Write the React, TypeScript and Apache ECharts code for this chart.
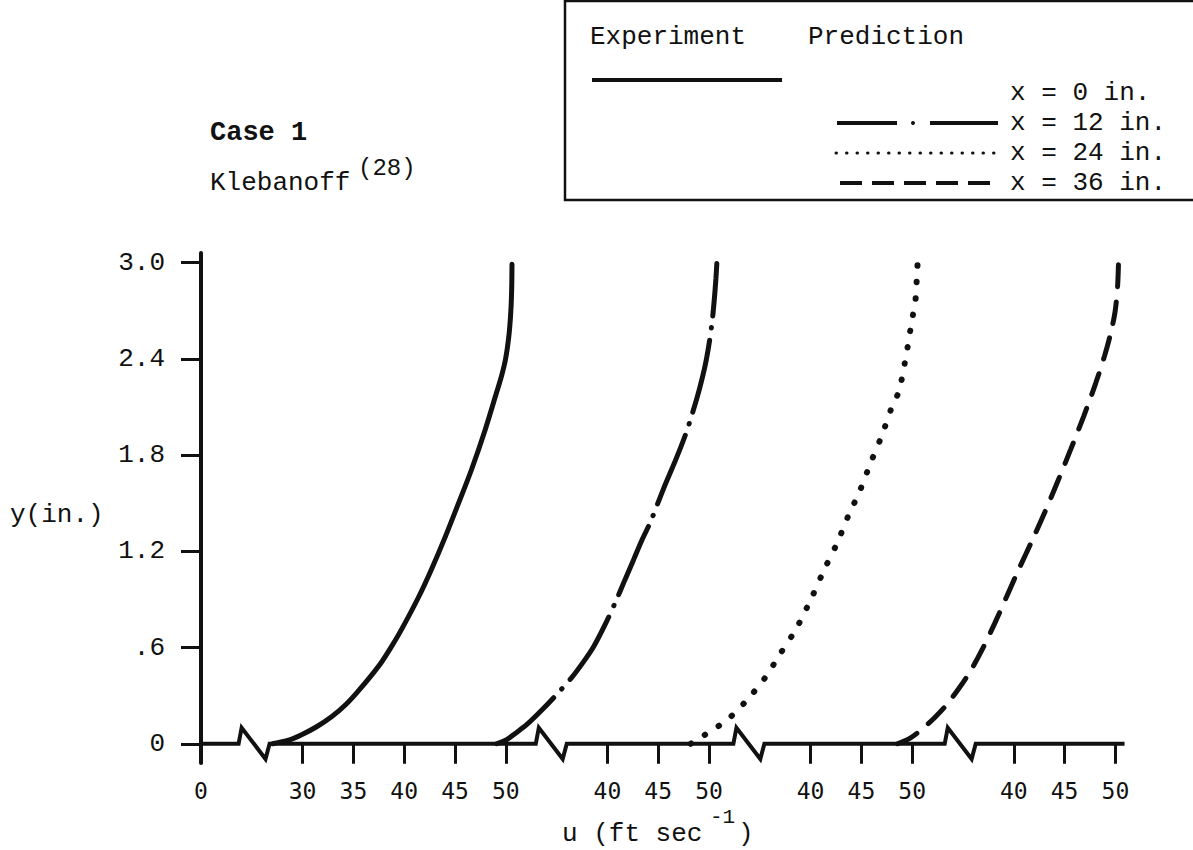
import React, { useEffect, useRef } from "react";
import * as echarts from "echarts";

// ---- axis layout: each panel's u value is drawn at plot position u + offset ----
const PANEL_OFFSETS = [0, 20, 40, 60];
const ORIGIN_POS = 20; // plot position of the "0" label (at the y axis)
const ORIGIN_LABEL = "0";
const FIRST_PANEL_TICKS = [30, 35, 40, 45, 50];
const OTHER_PANEL_TICKS = [40, 45, 50];
const X_MAX = 111;
const AXIS_END = 110.9;
const BREAK_STARTS = [23.7, 52.95, 72.4, 93.2];

const Y_MIN = -0.12;
const Y_MAX = 3.06;
const Y_TICKS = [0, 0.6, 1.2, 1.8, 2.4, 3.0];
const Y_TICK_LABELS = ["0", ".6", "1.2", "1.8", "2.4", "3.0"];

// ---- curves (u in ft/sec on their own panel scale, y in inches) ----
// Experiment, x = 0 in. (panel 1)
const U_X0 = [27.05, 28.62, 29.9, 31.38, 32.85, 34.23, 35.51, 36.69, 37.78, 38.76, 39.74, 41.42, 42.7, 44.04, 45.35, 46.63, 47.98, 49.09, 49.59, 49.98, 50.28, 50.47, 50.57, 50.61];
const Y_X0 = [0, 0.022, 0.056, 0.106, 0.168, 0.243, 0.331, 0.42, 0.51, 0.607, 0.713, 0.915, 1.09, 1.29, 1.5, 1.71, 1.96, 2.19, 2.296, 2.4, 2.53, 2.67, 2.81, 2.99];
// Prediction, x = 12 in. (panel 2)
const U_X12 = [29.09, 30.08, 30.96, 32.05, 33.23, 34.8, 36.48, 37.66, 38.64, 39.72, 40.81, 41.69, 42.58, 43.37, 44.25, 45.53, 46.81, 47.7, 48.39, 49.07, 49.62, 50.01, 50.31, 50.53, 50.68, 50.77];
const Y_X12 = [0, 0.025, 0.066, 0.119, 0.19, 0.293, 0.412, 0.512, 0.605, 0.736, 0.886, 1.017, 1.148, 1.266, 1.385, 1.591, 1.784, 1.93, 2.065, 2.215, 2.358, 2.495, 2.633, 2.776, 2.901, 2.994];
// Prediction, x = 24 in. (panel 3)
const U_X24 = [28.2, 29.6, 31.8, 33.7, 35.5, 37.0, 38.6, 40.1, 41.3, 42.6, 43.7, 44.8, 45.9, 47.0, 48.0, 48.7, 49.4, 50.0, 50.3, 50.5, 50.6];
const Y_X24 = [0, 0.056, 0.15, 0.27, 0.41, 0.56, 0.72, 0.91, 1.08, 1.25, 1.42, 1.57, 1.75, 1.92, 2.1, 2.2, 2.42, 2.65, 2.75, 2.96, 3.06];
// Prediction, x = 36 in. (panel 4)
const U_X36 = [28.56, 29.84, 31.02, 32.2, 33.39, 34.57, 35.75, 36.93, 38.11, 39.29, 40.47, 41.75, 43.03, 44.31, 45.59, 46.87, 48.05, 48.94, 49.53, 49.97, 50.22, 50.33];
const Y_X36 = [0, 0.037, 0.094, 0.162, 0.243, 0.343, 0.455, 0.593, 0.749, 0.917, 1.085, 1.26, 1.441, 1.634, 1.834, 2.04, 2.246, 2.42, 2.558, 2.695, 2.857, 3.057];

const LEGEND_LABELS = ["x = 0 in.", "x = 12 in.", "x = 24 in.", "x = 36 in."];

const MONO = "Liberation Mono";

function buildTicks() {
  const pos: number[] = [ORIGIN_POS];
  const labels: string[] = [ORIGIN_LABEL];
  PANEL_OFFSETS.forEach((off, i) => {
    const ticks = i === 0 ? FIRST_PANEL_TICKS : OTHER_PANEL_TICKS;
    ticks.forEach((t) => {
      pos.push(t + off);
      labels.push(String(t));
    });
  });
  return { pos, labels };
}

function baseline(): number[][] {
  const pts: number[][] = [[ORIGIN_POS, 0]];
  BREAK_STARTS.forEach((s) => {
    pts.push([s, 0], [s + 0.3, 0.1], [s + 2.65, -0.095], [s + 3.05, 0]);
  });
  pts.push([AXIS_END, 0]);
  return pts;
}

function curve(u: number[], y: number[], panel: number) {
  return u.map((v, i) => [v + PANEL_OFFSETS[panel], y[i]]);
}

export default function App() {
  const ref = useRef<HTMLDivElement>(null);
  useEffect(() => {
    if (!ref.current) return;
    const chart = echarts.init(ref.current, undefined, { renderer: "svg" });
    const { pos, labels } = buildTicks();
    const labelMap: Record<string, string> = {};
    pos.forEach((p, i) => (labelMap[p.toFixed(2)] = labels[i]));
    const yLabelMap: Record<string, string> = {};
    Y_TICKS.forEach((t, i) => (yLabelMap[t.toFixed(2)] = Y_TICK_LABELS[i]));

    const black = "#111";
    const legendY = [93, 123, 153, 183];
    const curveBase = { type: "line", symbol: "none", smooth: 0.3 };

    chart.setOption({
      animation: false,
      backgroundColor: "#fff",
      textStyle: { fontFamily: MONO, color: black },
      grid: { left: 201, top: 253, width: (X_MAX - ORIGIN_POS) * 10.16, height: 510 },
      xAxis: {
        type: "value",
        min: ORIGIN_POS,
        max: X_MAX,
        splitLine: { show: false },
        axisLine: { show: false, onZero: true },
        axisTick: {
          show: true,
          customValues: pos,
          length: 20,
          lineStyle: { color: black, width: 3 },
        },
        axisLabel: {
          customValues: pos,
          margin: 16,
          fontFamily: "DejaVu Sans Mono",
          fontSize: 23,
          color: black,
          formatter: (v: number) => labelMap[v.toFixed(2)] ?? "",
        },
      },
      yAxis: {
        type: "value",
        min: Y_MIN,
        max: Y_MAX,
        splitLine: { show: false },
        axisLine: { show: true, onZero: false, lineStyle: { color: black, width: 4 } },
        axisTick: {
          show: true,
          customValues: Y_TICKS,
          length: 20,
          lineStyle: { color: black, width: 3 },
        },
        axisLabel: {
          customValues: Y_TICKS,
          margin: 36,
          fontFamily: MONO,
          fontSize: 26,
          color: black,
          formatter: (v: number) => yLabelMap[v.toFixed(2)] ?? "",
        },
      },
      series: [
        {
          name: "axis",
          type: "line",
          data: baseline(),
          symbol: "none",
          lineStyle: { color: black, width: 4, join: "miter" },
          silent: true,
          z: 1,
        },
        {
          ...curveBase,
          name: LEGEND_LABELS[0],
          data: curve(U_X0, Y_X0, 0),
          lineStyle: { color: black, width: 5, cap: "round" },
        },
        {
          ...curveBase,
          name: LEGEND_LABELS[1],
          data: curve(U_X12, Y_X12, 1),
          lineStyle: { color: black, width: 5, cap: "round", type: [74, 12, 0.5, 12] },
        },
        {
          ...curveBase,
          name: LEGEND_LABELS[2],
          data: curve(U_X24, Y_X24, 2),
          lineStyle: { color: black, width: 6, cap: "round", type: [0.5, 16] },
        },
        {
          ...curveBase,
          name: LEGEND_LABELS[3],
          data: curve(U_X36, Y_X36, 3),
          lineStyle: { color: black, width: 5, cap: "round", type: [22, 15] },
        },
      ],
      graphic: [
        {
          type: "rect",
          shape: { x: 565, y: 1, width: 640, height: 199 },
          style: { fill: "#fff", stroke: black, lineWidth: 2.5 },
          z: 10,
        },
        { type: "text", x: 590, y: 37, z: 11, style: { text: "Experiment", font: `26px '${MONO}'`, fill: black, verticalAlign: "middle" } },
        { type: "text", x: 808, y: 37, z: 11, style: { text: "Prediction", font: `26px '${MONO}'`, fill: black, verticalAlign: "middle" } },
        { type: "line", z: 11, shape: { x1: 592, y1: 80, x2: 782, y2: 80 }, style: { stroke: black, lineWidth: 4 } },
        // dash-dot sample
        { type: "line", z: 11, shape: { x1: 837, y1: legendY[1], x2: 897, y2: legendY[1] }, style: { stroke: black, lineWidth: 4 } },
        { type: "circle", z: 11, shape: { cx: 913, cy: legendY[1], r: 2 }, style: { fill: black } },
        { type: "line", z: 11, shape: { x1: 930, y1: legendY[1], x2: 998, y2: legendY[1] }, style: { stroke: black, lineWidth: 4 } },
        // dotted sample
        { type: "line", z: 11, shape: { x1: 836, y1: legendY[2], x2: 1000, y2: legendY[2] }, style: { stroke: black, lineWidth: 3, lineCap: "round", lineDash: [0.5, 10] } },
        // dashed sample
        { type: "line", z: 11, shape: { x1: 840, y1: legendY[3], x2: 1000, y2: legendY[3] }, style: { stroke: black, lineWidth: 4, lineDash: [22, 10] } },
        ...LEGEND_LABELS.map((t, i) => ({
          type: "text",
          x: 1010,
          y: legendY[i],
          z: 11,
          style: { text: t, font: `26px '${MONO}'`, fill: black, verticalAlign: "middle" },
        })),
        { type: "text", x: 210, y: 133, style: { text: "Case 1", font: `bold 27px '${MONO}'`, fill: black, verticalAlign: "middle" } },
        { type: "text", x: 210, y: 183, style: { text: "Klebanoff", font: `26px '${MONO}'`, fill: black, verticalAlign: "middle" } },
        { type: "text", x: 358, y: 168, style: { text: "(28)", font: `24px '${MONO}'`, fill: black, verticalAlign: "middle" } },
        { type: "text", x: 10, y: 515, style: { text: "y(in.)", font: `26px '${MONO}'`, fill: black, verticalAlign: "middle" } },
        { type: "text", x: 562, y: 834, style: { text: "u (ft sec", font: `26px '${MONO}'`, fill: black, verticalAlign: "middle" } },
        { type: "text", x: 710, y: 817, style: { text: "-1", font: `21px '${MONO}'`, fill: black, verticalAlign: "middle" } },
        { type: "text", x: 738, y: 834, style: { text: ")", font: `26px '${MONO}'`, fill: black, verticalAlign: "middle" } },
      ],
    });
    return () => chart.dispose();
  }, []);
  return (
    <div
      ref={ref}
      style={{ position: "absolute", left: 0, top: 0, width: 1193, height: 850, background: "#fff" }}
    />
  );
}
